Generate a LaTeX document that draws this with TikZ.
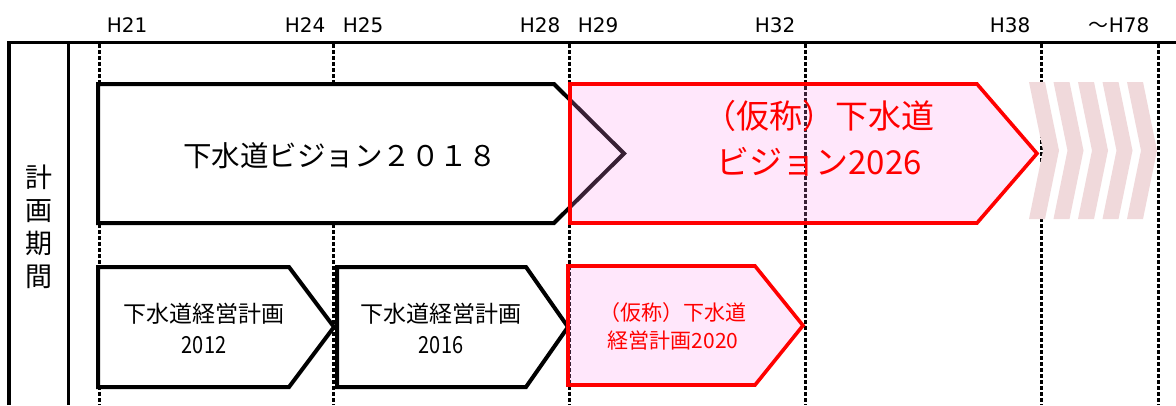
\documentclass[tikz,border=0pt]{standalone}
\usepackage{fontspec}
\setmainfont{DejaVu Sans}
\newfontfamily\jp{Noto Sans CJK JP}
\newfontfamily\jpn[FakeStretch=0.85]{Noto Sans CJK JP}
\newfontfamily\hdr{DejaVu Sans}
\definecolor{pinkfill}{RGB}{255,150,240}
\definecolor{chevcol}{RGB}{240,217,219}
\begin{document}
\begin{tikzpicture}[x=1pt,y=-1pt,
  frameline/.style={line width=3.5pt,black},
  gridline/.style={line width=3pt,black,dash pattern=on 3.5pt off 2.5pt},
  blackbox/.style={draw=black,line width=4pt,fill=white},
  redbox/.style={draw=red,line width=3.6pt,fill=pinkfill,fill opacity=0.22},
  chev/.style={fill=chevcol,draw=none},
  hlabel/.style={font=\hdr\fontsize{20}{20}\selectfont,anchor=base,inner sep=0pt},
  jtext/.style={anchor=base,inner sep=0pt},
]
\useasboundingbox (0,0) rectangle (1176,405);
\fill[white] (0,0) rectangle (1176,405);

% frame
\coordinate (ftl) at (9,42.5);
\coordinate (ftr) at (1176,42.5);
\coordinate (fbl) at (9,405);
\coordinate (itl) at (68.5,42.5);
\coordinate (ibl) at (68.5,405);
\draw[frameline] (fbl) -- (ftl) -- (ftr);
\draw[frameline] (itl) -- (ibl);

% dotted grid lines
\foreach \gx/\nm in {99/g1,333/g2,569/g3,805/g4,1041/g5,1158/g6}{
  \coordinate (\nm t) at (\gx,44);
  \coordinate (\nm b) at (\gx,405);
  \draw[gridline] (\nm t) -- (\nm b);
}

% header labels
\node[hlabel] (h21) at (127,32.5) {H21};
\node[hlabel] (h24) at (305,32.5) {H24};
\node[hlabel] (h25) at (363,32.5) {H25};
\node[hlabel] (h28) at (540,32.5) {H28};
\node[hlabel] (h29) at (598,32.5) {H29};
\node[hlabel] (h32) at (775,32.5) {H32};
\node[hlabel] (h38) at (1010,32.5) {H38};
\node[hlabel] (h78) at (1119,32.5) {{\jp ～}H78};

% left column
\foreach \ch/\cy/\nm in {計/177/k1,画/210/k2,期/243/k3,間/276/k4}{
  \node[jtext,font=\jp\fontsize{27}{27}\selectfont] (\nm) at (39,\cy+10.3) {\ch};
}

% top row: black vision box
\draw[blackbox] (98,84) -- (554,84) -- (624,153.5) -- (554,223) -- (98,223) -- cycle;
% top row: red vision box
\draw[redbox] (570,84) -- (977,84) -- (1037,153.5) -- (977,223) -- (570,223) -- cycle;

% chevrons
\foreach \cx in {1029,1053.5,1078,1102.5,1127}{
  \fill[chev] (\cx,82) -- (\cx+16,82) -- (\cx+30,150.5) -- (\cx+16,219) -- (\cx,219) -- (\cx+14,150.5) -- cycle;
}

% bottom row
\draw[blackbox] (98,267) -- (289,267) -- (334,327) -- (289,387) -- (98,387) -- cycle;
\draw[blackbox] (337,267) -- (526,267) -- (568,327) -- (526,387) -- (337,387) -- cycle;
\draw[redbox] (568,266) -- (755,266) -- (803,325.5) -- (755,385) -- (568,385) -- cycle;

% texts
\node[jtext,font=\jp\fontsize{28.5}{28.5}\selectfont] (v2018) at (340,166) {下水道ビジョン２０１８};
\node[jtext,font=\jp\fontsize{33}{33}\selectfont,text=red] (v2026a) at (819,128.5) {（仮称）下水道};
\node[jtext,font=\jp\fontsize{33}{33}\selectfont,text=red] (v2026b) at (819,174.5) {ビジョン2026};

\node[jtext,font=\jp\fontsize{23}{23}\selectfont] (m2012a) at (204,322) {下水道経営計画};
\node[jtext,font=\jpn\fontsize{23.5}{23.5}\selectfont] (m2012b) at (204,353) {2012};
\node[jtext,font=\jp\fontsize{23}{23}\selectfont] (m2016a) at (441,322) {下水道経営計画};
\node[jtext,font=\jpn\fontsize{23.5}{23.5}\selectfont] (m2016b) at (441,353) {2016};
\node[jtext,font=\jp\fontsize{21}{21}\selectfont,text=red] (m2020a) at (673,320) {（仮称）下水道};
\node[jtext,font=\jp\fontsize{21}{21}\selectfont,text=red] (m2020b) at (673,348) {経営計画2020};
\end{tikzpicture}
\end{document}
